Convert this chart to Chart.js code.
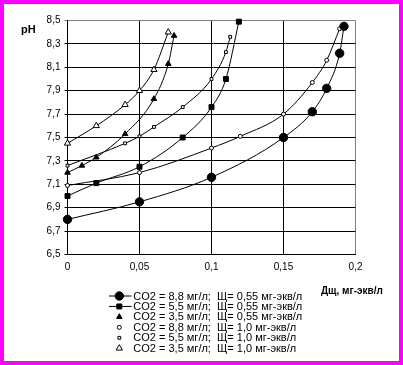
<!DOCTYPE html>
<html><head><meta charset="utf-8">
<script src="https://cdn.jsdelivr.net/npm/chart.js@4"></script>
<style>
html,body{margin:0;padding:0;background:#fff;}
#frame{width:403px;height:365px;box-sizing:border-box;border:4px solid #ff00ff;background:#fff;}
canvas{display:block;}
</style></head><body>
<div id="frame"><canvas id="c" width="395" height="357"></canvas></div>
<script>
// ---- data ----
const seriesLabels = [
  'CO2 = 8,8 мг/л;  Щ= 0,55 мг-экв/л',
  'CO2 = 5,5 мг/л;  Щ= 0,55 мг-экв/л',
  'CO2 = 3,5 мг/л;  Щ= 0,55 мг-экв/л',
  'CO2 = 8,8 мг/л;  Щ= 1,0 мг-экв/л',
  'CO2 = 5,5 мг/л;  Щ= 1,0 мг-экв/л',
  'CO2 = 3,5 мг/л;  Щ= 1,0 мг-экв/л'
];
const s1X = [0, 0.05, 0.1, 0.15, 0.17, 0.18, 0.189, 0.192];
const s1Y = [6.80, 6.95, 7.16, 7.50, 7.72, 7.92, 8.22, 8.45];
const s2X = [0, 0.02, 0.05, 0.08, 0.1, 0.11, 0.119];
const s2Y = [7.00, 7.11, 7.25, 7.50, 7.76, 8.00, 8.49];
const s3X = [0, 0.01, 0.02, 0.04, 0.06, 0.07, 0.074];
const s3Y = [7.20, 7.26, 7.33, 7.53, 7.83, 8.13, 8.37];
const s4X = [0, 0.05, 0.1, 0.12, 0.15, 0.17, 0.18, 0.189];
const s4Y = [7.09, 7.20, 7.41, 7.51, 7.70, 7.97, 8.16, 8.43];
const s5X = [0, 0.04, 0.05, 0.06, 0.08, 0.1, 0.11, 0.113];
const s5Y = [7.26, 7.45, 7.51, 7.59, 7.76, 8.00, 8.23, 8.36];
const s6X = [0, 0.02, 0.04, 0.05, 0.06, 0.07];
const s6Y = [7.45, 7.60, 7.78, 7.90, 8.08, 8.40];
const xMin = 0, xMax = 0.2, xStep = 0.05;
const yMin = 6.5, yMax = 8.5, yStep = 0.2;
const xTitle = 'Дщ, мг-экв/л';
const yTitle = 'pH';

const FONT = '"Liberation Sans", Arial, sans-serif';
const pts = (xs, ys) => xs.map((x, i) => ({x: x, y: ys[i]}));

const styles = [
  {pointStyle:'circle',   pointRadius:4.2, fill:'#000', legendLine:true},
  {pointStyle:'rect',     pointRadius:3.5, fill:'#000', legendLine:true},
  {pointStyle:'triangle', pointRadius:3.2, fill:'#000', legendLine:false},
  {pointStyle:'circle',   pointRadius:2.0, fill:'#fff', legendLine:false},
  {pointStyle:'rect',     pointRadius:2.0, fill:'#fff', legendLine:false},
  {pointStyle:'triangle', pointRadius:3.6, fill:'#fff', legendLine:false}
];
const seriesData = [pts(s1X,s1Y), pts(s2X,s2Y), pts(s3X,s3Y), pts(s4X,s4Y), pts(s5X,s5Y), pts(s6X,s6Y)];

const datasets = seriesData.map((d, i) => ({
  label: seriesLabels[i],
  data: d,
  borderColor: '#000',
  borderWidth: 1,
  pointStyle: styles[i].pointStyle,
  pointRadius: styles[i].pointRadius,
  pointHoverRadius: styles[i].pointRadius,
  pointBackgroundColor: styles[i].fill,
  pointBorderColor: '#000',
  pointBorderWidth: 1,
  cubicInterpolationMode: 'monotone',
  fill: false,
  clip: false,
  legendLine: styles[i].legendLine
}));

function drawMarker(ctx, style, r, x, y, fill) {
  ctx.beginPath();
  if (style === 'circle') {
    ctx.arc(x, y, r, 0, Math.PI * 2);
  } else if (style === 'rect') {
    const s = Math.SQRT1_2 * r;
    ctx.rect(x - s, y - s, 2 * s, 2 * s);
  } else if (style === 'triangle') {
    let a = 0;
    ctx.moveTo(x + Math.sin(a) * r, y - Math.cos(a) * r);
    a += Math.PI * 2 / 3;
    ctx.lineTo(x + Math.sin(a) * r, y - Math.cos(a) * r);
    a += Math.PI * 2 / 3;
    ctx.lineTo(x + Math.sin(a) * r, y - Math.cos(a) * r);
    ctx.closePath();
  }
  ctx.fillStyle = fill;
  ctx.fill();
  ctx.lineWidth = 1;
  ctx.strokeStyle = '#000';
  ctx.stroke();
}

const extras = {
  id: 'extras',
  afterDraw(chart) {
    const ctx = chart.ctx;
    ctx.save();
    // legend
    chart.data.datasets.forEach((ds, i) => {
      const y = 292 + i * 10.45;
      if (ds.legendLine) {
        ctx.beginPath();
        ctx.moveTo(105, y); ctx.lineTo(127.5, y);
        ctx.lineWidth = 1; ctx.strokeStyle = '#000'; ctx.stroke();
      }
      drawMarker(ctx, ds.pointStyle, ds.pointRadius, 115.3, y, ds.pointBackgroundColor);
      ctx.fillStyle = '#000';
      ctx.font = '11px ' + FONT;
      ctx.textBaseline = 'middle';
      ctx.textAlign = 'left';
      ctx.fillText(ds.label, 129.3, y + 0.5);
    });
    // axis titles
    ctx.font = 'bold 10px ' + FONT;
    ctx.fillStyle = '#000';
    ctx.textBaseline = 'middle';
    ctx.textAlign = 'left';
    ctx.fillText(xTitle, 317, 287);
    ctx.font = 'bold 11px ' + FONT;
    ctx.fillText(yTitle, 17, 25.5);
    ctx.restore();
  }
};

const fmt = v => String(Math.round(v * 1000) / 1000).replace('.', ',');

new Chart(document.getElementById('c'), {
  type: 'line',
  data: { datasets: datasets },
  options: {
    responsive: false,
    animation: false,
    events: [],
    layout: { padding: { left: 0, right: 43.5, top: 16.5, bottom: 86.5 } },
    plugins: { legend: { display: false }, tooltip: { enabled: false } },
    scales: {
      x: {
        type: 'linear', min: xMin, max: xMax,
        afterFit: s => { s.height = 20; },
        ticks: { stepSize: xStep, color: '#000', font: { size: 10, family: FONT }, padding: 7, maxRotation: 0,
                 callback: v => fmt(v) },
        grid: { drawTicks: false, lineWidth: 1,
                color: c => (c.tick && Math.abs(c.tick.value - xMax) < 1e-9) ? '#808080' : '#000' },
        border: { color: '#000', width: 1 }
      },
      y: {
        type: 'linear', min: yMin, max: yMax,
        afterFit: s => { s.width = 63.5; },
        ticks: { stepSize: yStep, color: '#000', font: { size: 10, family: FONT }, padding: 4,
                 callback: v => v.toFixed(1).replace('.', ',') },
        grid: { drawTicks: true, tickLength: 3, lineWidth: 1,
                color: c => (c.tick && Math.abs(c.tick.value - yMax) < 1e-9) ? '#808080' : '#000' },
        border: { color: '#000', width: 1 }
      }
    }
  },
  plugins: [extras]
});
</script>
</body></html>
